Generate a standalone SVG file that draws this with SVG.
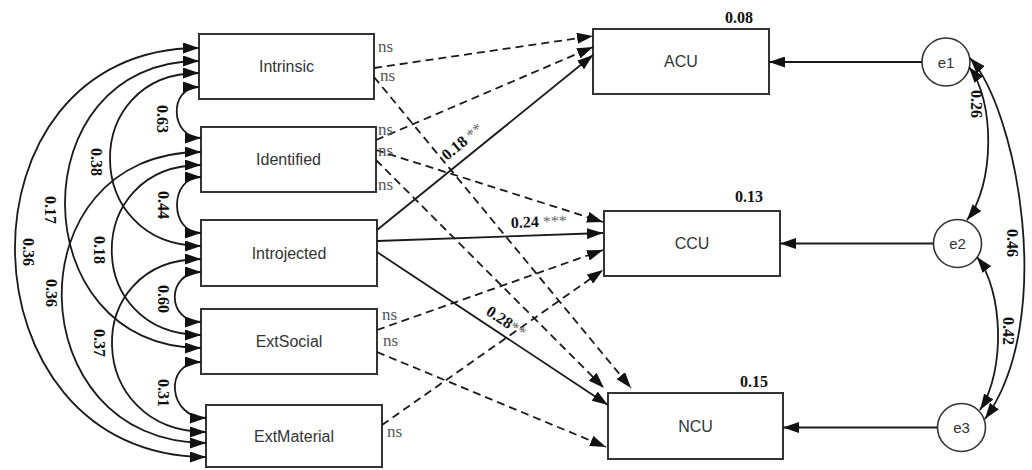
<svg xmlns="http://www.w3.org/2000/svg" width="1032" height="470" viewBox="0 0 1032 470">
<style>
.box{fill:#fff;stroke:#333;stroke-width:2}
.circ{fill:#fff;stroke:#333;stroke-width:1.6}
.nt{font-family:"Liberation Sans",Arial,sans-serif;font-size:16px;fill:#333;text-anchor:middle;dominant-baseline:central}
.et{font-family:"Liberation Sans",Arial,sans-serif;font-size:15px;fill:#333;text-anchor:middle;dominant-baseline:central}
.ln{fill:none;stroke:#1a1a1a;stroke-width:1.8;marker-end:url(#ah)}
.ds{fill:none;stroke:#1a1a1a;stroke-width:1.8;stroke-dasharray:8 5;marker-end:url(#ah)}
.cv{fill:none;stroke:#1a1a1a;stroke-width:1.8;marker-start:url(#ah);marker-end:url(#ah)}
.lb{font-family:"Liberation Serif","Times New Roman",serif;font-size:16px;font-weight:bold;fill:#111}
.rl{font-family:"Liberation Serif","Times New Roman",serif;font-size:16px;font-weight:bold;fill:#111;text-anchor:middle;dominant-baseline:central}
.ns{font-family:"Liberation Serif","Times New Roman",serif;font-size:17px;fill:#555}
.st{font-weight:normal;fill:#666}
</style>
<defs>
<marker id="ah" markerUnits="userSpaceOnUse" markerWidth="16" markerHeight="11" refX="16" refY="5.5" orient="auto-start-reverse" viewBox="0 0 16 11"><path d="M0,0 L16,5.5 L0,11 z" fill="#111"/></marker>
</defs>
<rect width="1032" height="470" fill="#fff"/>

<g id="Intrinsic"><rect class="box" x="199" y="34" width="175" height="65"/><text class="nt" x="286.5" y="66.5">Intrinsic</text></g>
<g id="Identified"><rect class="box" x="201" y="127" width="175" height="65"/><text class="nt" x="288.5" y="159.5">Identified</text></g>
<g id="Introjected"><rect class="box" x="201" y="220" width="176" height="66"/><text class="nt" x="289" y="253">Introjected</text></g>
<g id="ExtSocial"><rect class="box" x="201" y="309" width="176" height="65"/><text class="nt" x="289" y="341.5">ExtSocial</text></g>
<g id="ExtMaterial"><rect class="box" x="206" y="405" width="176" height="62"/><text class="nt" x="294" y="436">ExtMaterial</text></g>
<g id="ACU"><rect class="box" x="593" y="29" width="176" height="65"/><text class="nt" x="681" y="61.5">ACU</text><text class="lb" x="753" y="23" text-anchor="end">0.08</text></g>
<g id="CCU"><rect class="box" x="604" y="211" width="176" height="65"/><text class="nt" x="692" y="243.5">CCU</text><text class="lb" x="763" y="202" text-anchor="end">0.13</text></g>
<g id="NCU"><rect class="box" x="608" y="393" width="175" height="66"/><text class="nt" x="695.5" y="426">NCU</text><text class="lb" x="768" y="387" text-anchor="end">0.15</text></g>
<g id="e1"><circle class="circ" cx="946" cy="62" r="24"/><text class="et" x="946" y="62">e1</text></g>
<g id="e2"><circle class="circ" cx="957.5" cy="243.5" r="24"/><text class="et" x="957.5" y="243.5">e2</text></g>
<g id="e3"><circle class="circ" cx="961.5" cy="427.5" r="24"/><text class="et" x="961.5" y="427.5">e3</text></g>

<g id="connectors">
<path class="cv" d="M199,48 C-51,48 -44,457 206,457"/>
<path class="cv" d="M199,61 C19,61 21,348 201,348"/>
<path class="cv" d="M199,73 C79,73 81,246 201,246"/>
<path class="cv" d="M199,87 C168,87 170,138 201,138"/>
<path class="cv" d="M201,152 C12,152 17,443 206,443"/>
<path class="cv" d="M201,165 C82,165 82,335 201,335"/>
<path class="cv" d="M201,177 C169,177 169,233 201,233"/>
<path class="cv" d="M201,259 C79,259 84,432 206,432"/>
<path class="cv" d="M201,272 C166,272 166,322 201,322"/>
<path class="cv" d="M201,362 C163,362 168,418 206,418"/>
<text class="rl" transform="translate(162,119) rotate(90)">0.63</text>
<text class="rl" transform="translate(96,162) rotate(90)">0.38</text>
<text class="rl" transform="translate(50,210) rotate(90)">0.17</text>
<text class="rl" transform="translate(28,252) rotate(90)">0.36</text>
<text class="rl" transform="translate(163,205) rotate(90)">0.44</text>
<text class="rl" transform="translate(99,250) rotate(90)">0.18</text>
<text class="rl" transform="translate(51,293) rotate(90)">0.36</text>
<text class="rl" transform="translate(163,299) rotate(90)">0.60</text>
<text class="rl" transform="translate(99,343) rotate(90)">0.37</text>
<text class="rl" transform="translate(163,393) rotate(90)">0.31</text>

<path class="ds" d="M374,68 L593,36"/>
<path class="ds" d="M374,77 L631,388"/>
<path class="ds" d="M376,140 L593,47"/>
<path class="ds" d="M376,150 L603,222"/>
<path class="ds" d="M376,160 L604,388"/>
<path class="ln" d="M377,230 L593,55"/>
<path class="ln" d="M377,241 L603,233"/>
<path class="ln" d="M377,252 L608,405"/>
<path class="ds" d="M377,330 L603,250"/>
<path class="ds" d="M377,352 L606,447"/>
<path class="ds" d="M382,425 L603,270"/>

<text class="ns" x="378" y="52">ns</text>
<text class="ns" x="380" y="81">ns</text>
<text class="ns" x="378" y="135">ns</text>
<text class="ns" x="378" y="156">ns</text>
<text class="ns" x="378" y="190">ns</text>
<text class="ns" x="382" y="320">ns</text>
<text class="ns" x="383" y="346">ns</text>
<text class="ns" x="387" y="437">ns</text>

<text class="lb" transform="translate(447,161) rotate(-39.5)">0.18<tspan class="st"> **</tspan></text>
<text class="lb" transform="translate(511,228) rotate(-2)">0.24<tspan class="st"> ***</tspan></text>
<text class="lb" transform="translate(485,314) rotate(33.5)">0.28<tspan class="st">**</tspan></text>

<path class="ln" d="M922,62 L769,62"/>
<path class="ln" d="M933.5,243.5 L780,243.5"/>
<path class="ln" d="M937.5,427.5 L783,427.5"/>
<path class="cv" d="M969,67 C995,100 995,185 967,220"/>
<path class="cv" d="M970,58 C1017,110 1057,320 985,419"/>
<path class="cv" d="M977,257 C1003,290 1006,370 980,410"/>
<text class="rl" transform="translate(976,104) rotate(90)">0.26</text>
<text class="rl" transform="translate(1012,243) rotate(90)">0.46</text>
<text class="rl" transform="translate(1008,331) rotate(90)">0.42</text>
</g>
</svg>
